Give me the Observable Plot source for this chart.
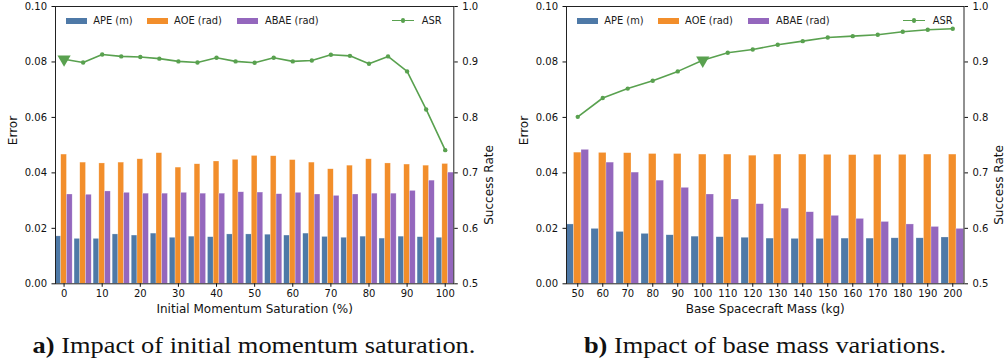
<!DOCTYPE html>
<html><head><meta charset="utf-8">
<script src="https://cdn.jsdelivr.net/npm/d3@7"></script>
<script src="https://cdn.jsdelivr.net/npm/@observablehq/plot@0.6"></script>
<style>
body{margin:0;background:#fff;}
#wrap{position:relative;width:1005px;height:364px;overflow:hidden;background:#fff;}
.fig{position:absolute;top:0;height:364px;}
.fig svg{position:absolute;left:0;top:0;overflow:visible;}
.leg{position:absolute;top:14.5px;height:12px;display:flex;align-items:center;font-family:"DejaVu Sans";font-size:9.9px;color:#1a1a1a;white-space:nowrap;}
.sw{display:inline-block;width:21px;height:6px;}
.ln{position:relative;display:inline-block;width:22.6px;height:1.6px;}
.ln i{position:absolute;left:9.3px;top:-1.4px;width:4.4px;height:4.4px;border-radius:50%;}
.cap{position:absolute;top:333px;font-family:"Liberation Serif","Times New Roman",Times,serif;font-size:24px;line-height:24px;white-space:nowrap;transform:translateX(-50%) scaleX(1.1);color:#111;}
</style></head><body><div id="wrap"></div>
<script>
// ---- data: (a) initial momentum saturation ----
const momentum = [0,5,10,15,20,25,30,35,40,45,50,55,60,65,70,75,80,85,90,95,100];
const apeMom  = [0.0171,0.0162,0.0162,0.0178,0.0174,0.0181,0.0166,0.0170,0.0168,0.0178,0.0178,0.0177,0.0174,0.0181,0.0169,0.0166,0.0170,0.0163,0.0170,0.0168,0.0166];
const aoeMom  = [0.0466,0.0437,0.0434,0.0437,0.0449,0.0471,0.0419,0.0431,0.0441,0.0447,0.0461,0.0460,0.0446,0.0437,0.0413,0.0426,0.0449,0.0434,0.0430,0.0426,0.0432];
const abaeMom = [0.0322,0.0321,0.0333,0.0328,0.0325,0.0325,0.0328,0.0325,0.0325,0.0330,0.0329,0.0323,0.0328,0.0322,0.0317,0.0322,0.0325,0.0325,0.0335,0.0372,0.0401];
const asrMom  = [0.905,0.899,0.9135,0.910,0.909,0.906,0.901,0.899,0.9076,0.901,0.8985,0.9076,0.901,0.9027,0.913,0.911,0.8967,0.910,0.883,0.8144,0.741];
const momTicks = [0,10,20,30,40,50,60,70,80,90,100];

// ---- data: (b) base spacecraft mass ----
const mass = [50,60,70,80,90,100,110,120,130,140,150,160,170,180,190,200];
const apeMass  = [0.0214,0.0198,0.0187,0.0180,0.0175,0.0170,0.0168,0.0166,0.0163,0.0162,0.0162,0.0163,0.0163,0.0164,0.0164,0.0167];
const aoeMass  = [0.0473,0.0472,0.0471,0.0468,0.0468,0.0466,0.0466,0.0462,0.0466,0.0466,0.0465,0.0464,0.0465,0.0465,0.0466,0.0466];
const abaeMass = [0.0483,0.0437,0.0401,0.0372,0.0346,0.0322,0.0304,0.0287,0.0271,0.0258,0.0245,0.0234,0.0223,0.0214,0.0205,0.0198];
const asrMass  = [0.801,0.835,0.852,0.866,0.883,0.903,0.9166,0.9225,0.931,0.9375,0.944,0.9465,0.949,0.9544,0.958,0.960];
const massTicks = [50,60,70,80,90,100,110,120,130,140,150,160,170,180,190,200];

// ---- shared ----
const seriesNames = ["APE (m)","AOE (rad)","ABAE (rad)"];
const seriesColors = ["#4e79a7","#f28e2b","#9467bd"];
const asrName = "ASR";
const asrColor = "#59a14f";
const errorTicks = [0,0.02,0.04,0.06,0.08,0.10];
const srMin = 0.5, srMax = 1.0;

const H = 323, FT = 6, FB = 283.3;

function chart(o){
  const rows = [];
  const offs = [-1.5,-0.5,0.5];
  const vals = [o.ape,o.aoe,o.abae];
  o.cats.forEach((c,i)=>{
    seriesNames.forEach((n,k)=>{
      rows.push({name:n, x1:c+offs[k]*o.barW, x2:c+(offs[k]+1)*o.barW, y:vals[k][i]});
    });
  });
  const toErr = v => (v - srMin) / (srMax - srMin) * 0.1;
  const line = o.cats.map((c,i)=>({x:c, y:toErr(o.asr[i])}));
  return Plot.plot({
    width:o.width, height:H,
    marginLeft:o.ml, marginRight:o.mr, marginTop:FT, marginBottom:H-FB,
    x:{domain:o.xDomain},
    y:{domain:[0,0.1]},
    color:{domain:seriesNames, range:seriesColors},
    style:{fontFamily:"DejaVu Sans", fontSize:"10px", color:"#111", background:"#fff"},
    marks:[
      Plot.rectY(rows,{x1:"x1",x2:"x2",y:"y",fill:"name",stroke:"white",strokeWidth:0.5,strokeOpacity:0.5}),
      Plot.line(line,{x:"x",y:"y",stroke:asrColor,strokeWidth:1.6}),
      Plot.dot(line,{x:"x",y:"y",r:2.2,fill:asrColor}),
      Plot.dot([line[o.markIdx]],{x:"x",y:"y",symbol:"triangle",rotate:180,r:4.9,fill:asrColor}),
      Plot.frame({stroke:"#222"}),
      Plot.axisX({ticks:o.ticks, tickSize:3.5, tickPadding:3, label:null, tickFormat:d=>String(d)}),
      Plot.axisY({ticks:errorTicks, tickSize:3.5, tickPadding:5, label:null, tickFormat:d3.format(".2f")}),
      Plot.axisY({anchor:"right", ticks:errorTicks, tickSize:3.5, tickPadding:5, label:null,
                  tickFormat:d=>(srMin + d/0.1*(srMax-srMin)).toFixed(1)}),
      Plot.text([o.xlabel],{text:d=>d, frameAnchor:"bottom", dy:29.5, fontSize:12}),
      Plot.text(["Error"],{text:d=>d, frameAnchor:"left", dx:-42, rotate:-90, fontSize:12}),
      Plot.text(["Success Rate"],{text:d=>d, frameAnchor:"right", dx:35.5, rotate:-90, fontSize:12})
    ]
  });
}

function legend(fig, frameLeft){
  const pos = [10.7, 91.5, 182.3];
  seriesNames.forEach((n,k)=>{
    const d = document.createElement("div");
    d.className = "leg";
    d.style.left = (frameLeft + pos[k]) + "px";
    d.innerHTML = `<span class="sw" style="background:${seriesColors[k]}"></span><span style="margin-left:6.6px">${n}</span>`;
    fig.appendChild(d);
  });
  const d = document.createElement("div");
  d.className = "leg";
  d.style.left = (frameLeft + 336.6) + "px";
  d.innerHTML = `<span class="ln" style="background:${asrColor}"><i style="background:${asrColor}"></i></span><span style="margin-left:7.6px">${asrName}</span>`;
  fig.appendChild(d);
}

const wrap = document.getElementById("wrap");
const specs = [
  {left:0, width:502, ml:55, mr:48.7, cats:momentum, ape:apeMom, aoe:aoeMom, abae:abaeMom, asr:asrMom,
   xDomain:[-2.25,102.25], ticks:momTicks, barW:1.5, markIdx:0, xlabel:"Initial Momentum Saturation (%)",
   cap:["a)"," Impact of initial momentum saturation."]},
  {left:502, width:503, ml:64, mr:41.5, cats:mass, ape:apeMass, aoe:aoeMass, abae:abaeMass, asr:asrMass,
   xDomain:[45.5,204.5], ticks:massTicks, barW:3, markIdx:5, xlabel:"Base Spacecraft Mass (kg)",
   cap:["b)"," Impact of base mass variations."]}
];
specs.forEach(s=>{
  const fig = document.createElement("div");
  fig.className = "fig";
  fig.style.left = s.left + "px";
  fig.style.width = s.width + "px";
  fig.appendChild(chart(s));
  legend(fig, s.ml);
  const cap = document.createElement("div");
  cap.className = "cap";
  cap.style.left = (s.ml + (s.width - s.ml - s.mr)/2) + "px";
  cap.innerHTML = `<b>${s.cap[0]}</b>${s.cap[1]}`;
  fig.appendChild(cap);
  wrap.appendChild(fig);
});
</script>
</body></html>
